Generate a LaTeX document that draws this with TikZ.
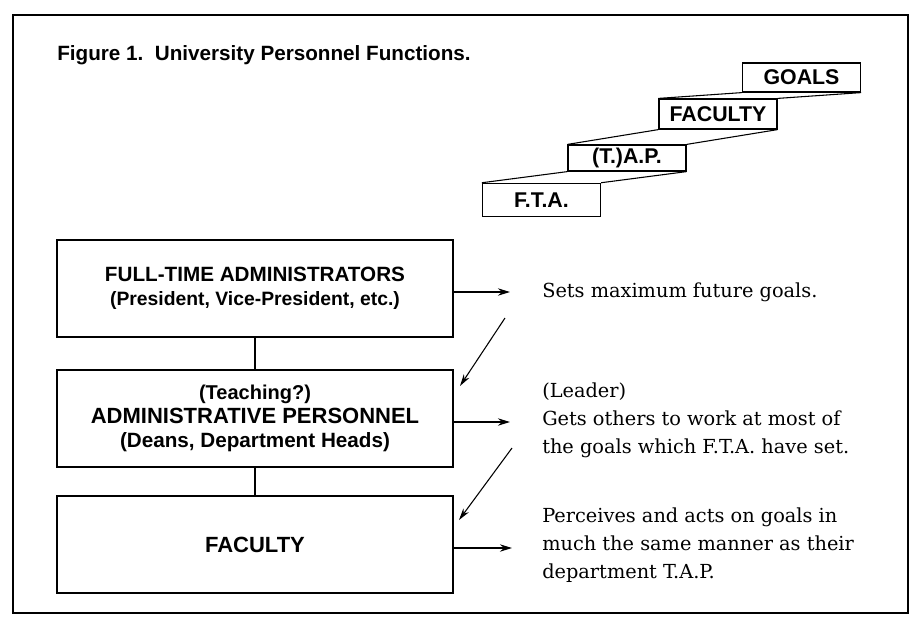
\documentclass[tikz,border=0pt]{standalone}
\usepackage{fontspec}
\setmainfont{DejaVu Serif}
\setsansfont{Liberation Sans}
\usetikzlibrary{arrows.meta}

\newcommand{\fs}[1]{\fontsize{#1}{18}\selectfont}

\tikzset{
  frameline/.style={line width=0.8pt},
  mainbox/.style={draw, line width=1.3pt, minimum width=297pt, minimum height=72.75pt,
    align=center, inner sep=0pt, font=\sffamily\bfseries\fontsize{15.5}{18}\selectfont},
  stepbox/.style={draw, line width=0.9pt, minimum width=88.5pt, inner sep=0pt,
    font=\sffamily\bfseries\fontsize{16}{18}\selectfont},
  stepedge/.style={line width=0.8pt},
  link/.style={line width=0.8pt},
  harrow/.style={line width=1.3pt, -{Stealth[length=9pt,width=5.5pt]}},
  darrow/.style={line width=0.8pt, -{Stealth[length=9pt,width=5pt]}},
  note/.style={anchor=base west, inner sep=0pt, font=\fontsize{14.5}{21}\selectfont},
  heading/.style={anchor=base west, inner sep=0pt, font=\sffamily\bfseries\fontsize{15.5}{18}\selectfont}
}

\begin{document}
\begin{tikzpicture}[x=0.75pt, y=-0.75pt]
\useasboundingbox (0,0) rectangle (913,618);

% outer frame
\draw[frameline] (13,15) rectangle (908,613);

% caption
\node[heading] (title) at (57,60) {Figure 1.\ \ University Personnel Functions.};

% staircase of the four levels
\node[stepbox, minimum height=21.75pt] (goals) at (801.5,77.5) {GOALS};
\node[stepbox, minimum height=22.5pt]  (sfac)  at (718,114)    {FACULTY};
\node[stepbox, minimum height=19.5pt]  (stap)  at (627,158)    {(T.)A.P.};
\node[stepbox, minimum height=25pt]    (sfta)  at (541.5,200)  {F.T.A.};

\draw[stepedge] (sfac.north west) -- (goals.south west);
\draw[stepedge] (sfac.north east) -- (goals.south east);
\draw[stepedge] (stap.north west) -- (sfac.south west);
\draw[stepedge] (stap.north east) -- (sfac.south east);
\draw[stepedge] (sfta.north west) -- (stap.south west);
\draw[stepedge] (sfta.north east) -- (stap.south east);

% hierarchy boxes
\node[mainbox] (fta) at (255,288.5)
  {{\fs{15.5}FULL-TIME ADMINISTRATORS}\\{\fs{14.5}(President, Vice-President, etc.)}};
\node[mainbox] (tap) at (255,418.5)
  {{\fs{15}(Teaching?)}\\{\fs{16.5}ADMINISTRATIVE PERSONNEL}\\{\fs{15.5}(Deans, Department Heads)}};
\node[mainbox, font=\sffamily\bfseries\fontsize{16.5}{18}\selectfont] (fac) at (255,544.5) {FACULTY};

\draw[link] (fta.south) -- (tap.north);
\draw[link] (tap.south) -- (fac.north);

% arrow end points
\coordinate (e1) at (510,292);
\coordinate (e2) at (510,422);
\coordinate (e3) at (512,548);
\coordinate (d1s) at (505,318);
\coordinate (d1e) at (460,386);
\coordinate (d2s) at (512,448);
\coordinate (d2e) at (459,520);

\draw[harrow] (fta.east |- e1) -- (e1);
\draw[harrow] (tap.east |- e2) -- (e2);
\draw[harrow] (fac.east |- e3) -- (e3);
\draw[darrow] (d1s) -- (d1e);
\draw[darrow] (d2s) -- (d2e);

% descriptions
\node[note] (n1)  at (542,297) {Sets maximum future goals.};
\node[note] (n2a) at (542,397) {(Leader)};
\node[note] (n2b) at (542,425) {Gets others to work at most of};
\node[note] (n2c) at (542,453) {the goals which F.T.A. have set.};
\node[note] (n3a) at (542,522) {Perceives and acts on goals in};
\node[note] (n3b) at (542,550) {much the same manner as their};
\node[note] (n3c) at (542,578) {department T.A.P.};
\end{tikzpicture}
\end{document}
